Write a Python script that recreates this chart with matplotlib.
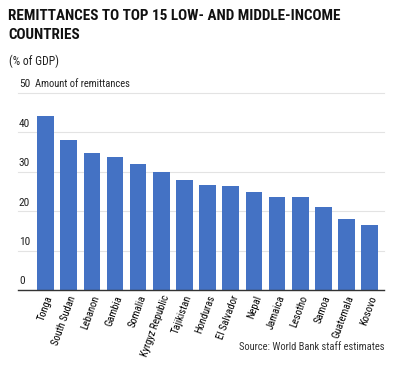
import matplotlib
matplotlib.use("Agg")
import matplotlib.pyplot as plt
from matplotlib import font_manager

countries = ["Tonga", "South Sudan", "Lebanon", "Gambia", "Somalia",
             "Kyrgyz Republic", "Tajikistan", "Honduras", "El Salvador",
             "Nepal", "Jamaica", "Lesotho", "Samoa", "Guatemala", "Kosovo"]
remit = [44.2, 38.1, 34.8, 33.7, 32.0, 29.9, 27.8, 26.6, 26.4,
         24.9, 23.5, 23.5, 21.1, 18.0, 16.6]
yticks = [0, 10, 20, 30, 40, 50]

# pick a narrow font if one is installed
names = set(f.name for f in font_manager.fontManager.ttflist)
fam = "DejaVu Sans"
for cand in ["Roboto Condensed", "Liberation Sans Narrow", "DejaVu Sans Condensed", "Roboto"]:
    if cand in names:
        fam = cand
        break
plt.rcParams["font.family"] = [fam, "DejaVu Sans"]
stretch = "condensed"

fig = plt.figure(figsize=(4.0, 3.67), dpi=100)
ax = fig.add_axes([0.045, 0.21, 0.915, 0.5366])

x = list(range(len(countries)))
ax.bar(x, remit, width=0.72, color="#4472c4", zorder=2)
ax.set_xlim(-1.19, 14.62)
ax.set_ylim(0, 50)

for v in yticks:
    ax.axhline(v, color="#e3e3e3", lw=0.8, zorder=1, clip_on=False)
    ax.text(-1.15, v + 0.9, str(v), fontsize=8.2, color="#222222",
            ha="left", va="bottom", stretch=stretch)
ax.text(-0.45, 50.9, "Amount of remittances", fontsize=7.6, color="#222222",
        ha="left", va="bottom", stretch=stretch)

for s in ["top", "right", "left"]:
    ax.spines[s].set_visible(False)
ax.spines["bottom"].set_color("#333333")
ax.spines["bottom"].set_linewidth(1.0)
ax.spines["bottom"].set_zorder(3)
ax.set_yticks([])
ax.set_xticks(x)
ax.set_xticklabels(countries, rotation=70, ha="right", rotation_mode="anchor",
                   fontsize=7.6, stretch=stretch)
ax.tick_params(axis="x", length=0, pad=3)

fig.text(0.02, 0.975, "REMITTANCES TO TOP 15 LOW- AND MIDDLE-INCOME\nCOUNTRIES",
         fontsize=10.9, fontweight="bold", ha="left", va="top",
         linespacing=1.45, stretch=stretch, color="#111111")
fig.text(0.022, 0.85, "(% of GDP)", fontsize=8.5, ha="left", va="top",
         stretch=stretch, color="#222222")
fig.text(0.962, 0.04, "Source: World Bank staff estimates", fontsize=7.6,
         ha="right", va="bottom", stretch=stretch, color="#333333")

fig.savefig("out.png", dpi=100)
